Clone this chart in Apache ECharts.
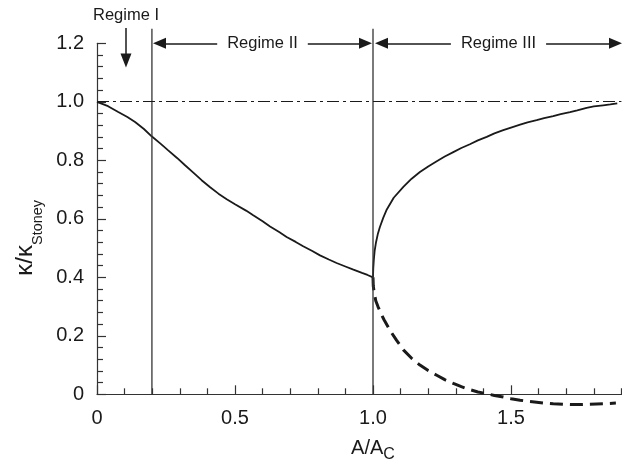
<!DOCTYPE html>
<html>
<head>
<meta charset="utf-8">
<script src="https://cdn.jsdelivr.net/npm/echarts@6/dist/echarts.min.js"></script>
<style>html,body{margin:0;padding:0;background:#fff}#c{width:622px;height:464px}</style>
</head>
<body>
<div id="c"></div>
<script>
// ---- data ----
const regime12X = [0,0.04,0.077,0.11,0.138,0.17,0.198,0.23,0.258,0.29,0.319,0.35,0.379,0.41,0.44,0.47,0.5,0.54,0.566,0.6,0.627,0.66,0.687,0.72,0.747,0.78,0.808,0.84,0.868,0.9,0.929,0.96,0.98,1.0];
const regime12Y = [1.0,0.985,0.965,0.948,0.931,0.907,0.882,0.857,0.834,0.808,0.783,0.757,0.732,0.708,0.686,0.667,0.65,0.628,0.612,0.592,0.574,0.555,0.538,0.521,0.506,0.49,0.475,0.461,0.449,0.437,0.426,0.415,0.408,0.4];

const upperX = [1.0,1.001,1.003,1.006,1.011,1.018,1.025,1.037,1.05,1.075,1.11,1.14,1.17,1.2,1.231,1.26,1.291,1.32,1.351,1.38,1.412,1.44,1.472,1.5,1.533,1.56,1.593,1.62,1.653,1.68,1.714,1.74,1.774,1.8,1.834,1.86,1.885];
const upperY = [0.4,0.43,0.46,0.49,0.52,0.55,0.572,0.603,0.632,0.672,0.709,0.737,0.76,0.779,0.797,0.813,0.828,0.842,0.855,0.868,0.88,0.892,0.903,0.912,0.922,0.93,0.937,0.944,0.951,0.958,0.965,0.971,0.979,0.984,0.988,0.991,0.995];

const lowerX = [1.0,1.001,1.004,1.01,1.018,1.028,1.04,1.062,1.085,1.11,1.14,1.17,1.2,1.231,1.26,1.291,1.32,1.351,1.38,1.412,1.44,1.472,1.5,1.533,1.56,1.593,1.62,1.653,1.69,1.72,1.75,1.78,1.81,1.84,1.88];
const lowerY = [0.4,0.37,0.35,0.32,0.3,0.278,0.255,0.218,0.185,0.152,0.123,0.1,0.081,0.065,0.05,0.037,0.026,0.016,0.008,0.002,-0.004,-0.009,-0.015,-0.02,-0.024,-0.027,-0.03,-0.032,-0.034,-0.035,-0.035,-0.034,-0.033,-0.032,-0.03];

const regimeBoundaries = [0.199, 1.0];
const referenceLevel = 1.003;
const regimeNames = ['Regime I', 'Regime II', 'Regime III'];

const xTickValues = [0, 0.5, 1.0, 1.5];
const xTickLabels = ['0', '0.5', '1.0', '1.5'];
const yTickValues = [0, 0.2, 0.4, 0.6, 0.8, 1.0, 1.2];
const yTickLabels = ['0', '0.2', '0.4', '0.6', '0.8', '1.0', '1.2'];

// ---- chart ----
const FONT = 'Liberation Sans, Arial, Helvetica, sans-serif';
const INK = '#1a1a1a';
const AXIS = '#333';
const pairs = (xs, ys) => xs.map((x, i) => [x, ys[i]]);
const pick = (vals, labels) => v => {
  const i = vals.findIndex(t => Math.abs(t - v) < 1e-9);
  return i >= 0 ? labels[i] : '';
};

const chart = echarts.init(document.getElementById('c'), null, {renderer: 'canvas'});

const tickStyle = {color: AXIS, width: 1.2};
const arrowLabel = (txt) => ({
  show: true, position: 'insideMiddle', formatter: () => txt,
  backgroundColor: '#fff', padding: [3, 10], fontSize: 16.5, color: INK, fontFamily: FONT
});
const ARROW = [11, 13];
const annY = 1.2;
const boundaryTop = 1.25;

const option = {
  animation: false,
  grid: [
    {left: 97, right: -27, top: 43.3, bottom: 69.7, containLabel: false, outerBoundsMode: 'none'},
    {left: 97, right: -27, top: 14.05, bottom: 69.7, containLabel: false, outerBoundsMode: 'none'}
  ],
  xAxis: [
    {
      type: 'value', gridIndex: 0, min: 0, max: 2.0, interval: 0.5,
      axisLine: {lineStyle: {color: AXIS, width: 1.2}},
      axisTick: {inside: true, length: 9, lineStyle: tickStyle},
      minorTick: {show: true, splitNumber: 5, length: 6, lineStyle: tickStyle},
      splitLine: {show: false},
      axisLabel: {margin: 14, fontSize: 20, color: INK, fontFamily: FONT, formatter: pick(xTickValues, xTickLabels)},
      name: '{a|A/A}{c|C}', nameLocation: 'middle', nameGap: 44,
      nameTextStyle: {
        fontFamily: FONT, color: INK,
        rich: {
          a: {fontSize: 20, lineHeight: 20, verticalAlign: 'top', fontFamily: FONT, color: INK},
          c: {fontSize: 16, lineHeight: 16, verticalAlign: 'top', padding: [8.5, 0, 0, 0], fontFamily: FONT, color: INK}
        }
      }
    },
    {type: 'value', gridIndex: 1, min: 0, max: 2.0, show: false}
  ],
  yAxis: [
    {
      type: 'value', gridIndex: 0, min: 0, max: 1.2, interval: 0.2,
      axisLine: {lineStyle: {color: AXIS, width: 1.2}},
      axisTick: {inside: true, length: 9, lineStyle: tickStyle},
      minorTick: {show: true, splitNumber: 5, length: 6, lineStyle: tickStyle},
      splitLine: {show: false},
      axisLabel: {margin: 13, fontSize: 20, color: INK, fontFamily: FONT, formatter: pick(yTickValues, yTickLabels)},
      name: '{k|κ/κ}{s|Stoney}', nameLocation: 'middle', nameGap: 54,
      nameTextStyle: {
        fontFamily: FONT, color: INK, padding: [0, 38, 0, 0],
        rich: {
          k: {fontSize: 24, lineHeight: 24, verticalAlign: 'top', fontFamily: FONT, color: INK},
          s: {fontSize: 14.5, lineHeight: 14.5, verticalAlign: 'top', padding: [17, 0, 0, 0], fontFamily: FONT, color: INK}
        }
      }
    },
    {type: 'value', gridIndex: 1, min: 0, max: 1.3, show: false}
  ],
  series: [
    {
      name: 'Regime I–II', type: 'line', xAxisIndex: 0, yAxisIndex: 0,
      data: pairs(regime12X, regime12Y), symbol: 'none', clip: false,
      lineStyle: {color: INK, width: 1.8}
    },
    {
      name: 'Regime III stable', type: 'line', xAxisIndex: 0, yAxisIndex: 0,
      data: pairs(upperX, upperY), symbol: 'none', clip: false,
      lineStyle: {color: INK, width: 1.8}
    },
    {
      name: 'Regime III unstable', type: 'line', xAxisIndex: 0, yAxisIndex: 0,
      data: pairs(lowerX, lowerY), symbol: 'none', clip: false,
      lineStyle: {color: INK, width: 3, type: [13, 7]}
    },
    {
      name: 'Boundary I/II', type: 'line', xAxisIndex: 1, yAxisIndex: 1,
      data: [[regimeBoundaries[0], 0], [regimeBoundaries[0], boundaryTop]],
      symbol: 'none', clip: false, lineStyle: {color: AXIS, width: 1.3},
      markLine: {
        silent: true, animation: false, symbol: ['none', 'none'],
        data: [
          [
            {coord: [0, referenceLevel], lineStyle: {color: INK, width: 1.1, type: [12, 4, 3, 4]}, label: {show: false}},
            {coord: [1.9, referenceLevel]}
          ],
          [
            {coord: [0.105, 1.141], symbol: 'triangle', symbolSize: [11, 14],
             lineStyle: {color: INK, width: 1.5, type: 'solid'},
             label: {show: true, position: 'end', distance: 4, formatter: () => regimeNames[0], fontSize: 16.5, color: INK, fontFamily: FONT}},
            {coord: [0.105, 1.252], symbol: 'none'}
          ],
          [
            {coord: [0.2264, annY], symbol: 'triangle', symbolSize: ARROW,
             lineStyle: {color: INK, width: 1.5, type: 'solid'}, label: arrowLabel(regimeNames[1])},
            {coord: [0.9728, annY], symbol: 'triangle', symbolSize: ARROW}
          ],
          [
            {coord: [1.0308, annY], symbol: 'triangle', symbolSize: ARROW,
             lineStyle: {color: INK, width: 1.5, type: 'solid'}, label: arrowLabel(regimeNames[2])},
            {coord: [1.8786, annY], symbol: 'triangle', symbolSize: ARROW}
          ]
        ]
      }
    },
    {
      name: 'Boundary II/III', type: 'line', xAxisIndex: 1, yAxisIndex: 1,
      data: [[regimeBoundaries[1], 0], [regimeBoundaries[1], boundaryTop]],
      symbol: 'none', clip: false, lineStyle: {color: AXIS, width: 1.3}
    }
  ]
};
chart.setOption(option);
</script>
</body>
</html>
